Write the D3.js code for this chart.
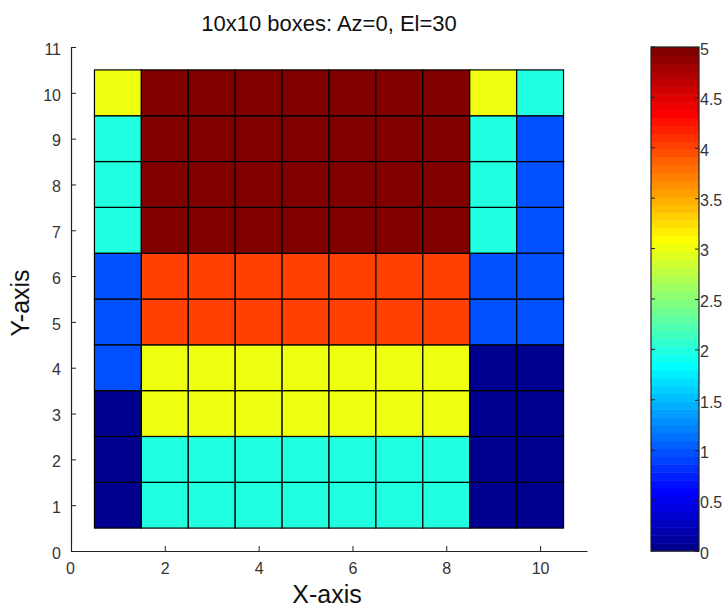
<!DOCTYPE html>
<html>
<head>
<meta charset="utf-8">
<script src="https://cdn.jsdelivr.net/npm/d3@7"></script>
<style>
  body { margin: 0; background: #fff; }
  svg { display: block; }
  text { font-family: "Liberation Sans", Arial, sans-serif; }
</style>
</head>
<body>
<svg id="chart" width="727" height="609"></svg>
<script>
// Grid coordinates
const xCats = [1, 2, 3, 4, 5, 6, 7, 8, 9, 10];
const yCats = [1, 2, 3, 4, 5, 6, 7, 8, 9, 10];

// Cell values, one row per y (bottom row first)
const row1  = [0, 2, 2, 2, 2, 2, 2, 2, 0, 0];
const row2  = [0, 2, 2, 2, 2, 2, 2, 2, 0, 0];
const row3  = [0, 3, 3, 3, 3, 3, 3, 3, 0, 0];
const row4  = [1, 3, 3, 3, 3, 3, 3, 3, 0, 0];
const row5  = [1, 4, 4, 4, 4, 4, 4, 4, 1, 1];
const row6  = [1, 4, 4, 4, 4, 4, 4, 4, 1, 1];
const row7  = [2, 5, 5, 5, 5, 5, 5, 5, 2, 1];
const row8  = [2, 5, 5, 5, 5, 5, 5, 5, 2, 1];
const row9  = [2, 5, 5, 5, 5, 5, 5, 5, 2, 1];
const row10 = [3, 5, 5, 5, 5, 5, 5, 5, 3, 2];
const rows = [row1, row2, row3, row4, row5, row6, row7, row8, row9, row10];

// Axis ticks
const xTicks = [0, 2, 4, 6, 8, 10];
const yTicks = [0, 1, 2, 3, 4, 5, 6, 7, 8, 9, 10, 11];
const cbTicks = [0, 0.5, 1, 1.5, 2, 2.5, 3, 3.5, 4, 4.5, 5];

const titleText = "10x10 boxes: Az=0, El=30";

// 64-entry jet colormap
function jet(i) { // i = 1..64
  const clamp = v => Math.max(0, Math.min(1, v));
  let r, g, b;
  if (i <= 24) r = 0; else if (i <= 40) r = (i - 24) / 16; else if (i <= 56) r = 1; else r = 1 - (i - 56) / 16;
  if (i <= 8) g = 0; else if (i <= 24) g = (i - 8) / 16; else if (i <= 40) g = 1; else if (i <= 56) g = 1 - (i - 40) / 16; else g = 0;
  if (i <= 8) b = (i + 8) / 16; else if (i <= 24) b = 1; else if (i <= 40) b = 1 - (i - 24) / 16; else b = 0;
  return d3.rgb(clamp(r) * 255, clamp(g) * 255, clamp(b) * 255).formatHex();
}
const jetColors = d3.range(1, 65).map(jet);
const color = d3.scaleQuantize().domain([0, 5]).range(jetColors);

const svg = d3.select("#chart");

// Main axes
const x = d3.scaleLinear().domain([0, 11]).range([71, 587]);
const y = d3.scaleLinear().domain([0, 11]).range([551, 47]);

const cells = [];
rows.forEach((row, ri) => row.forEach((v, ci) => cells.push({ x: xCats[ci], y: yCats[ri], v })));

svg.append("g").selectAll("rect")
  .data(cells)
  .join("rect")
  .attr("x", d => x(d.x - 0.5))
  .attr("y", d => y(d.y + 0.5))
  .attr("width", d => x(d.x + 0.5) - x(d.x - 0.5))
  .attr("height", d => y(d.y - 0.5) - y(d.y + 0.5))
  .attr("fill", d => color(d.v))
  .attr("stroke", "#000")
  .attr("stroke-width", 1.2);

const tickFont = 16;

const xAxis = svg.append("g")
  .attr("transform", `translate(0,${y(0)})`)
  .call(d3.axisBottom(x).tickValues(xTicks).tickFormat(d3.format("d")).tickSizeInner(-5).tickSizeOuter(0).tickPadding(12));
const yAxis = svg.append("g")
  .attr("transform", `translate(${x(0)},0)`)
  .call(d3.axisLeft(y).tickValues(yTicks).tickFormat(d3.format("d")).tickSizeInner(-5).tickSizeOuter(0).tickPadding(10));

[xAxis, yAxis].forEach(g => {
  g.select(".domain").attr("stroke", "#222").attr("stroke-width", 1.2);
  g.selectAll(".tick line").attr("stroke", "#222");
  g.selectAll(".tick text").attr("font-size", tickFont).attr("fill", "#333");
});
xAxis.selectAll(".tick text").attr("dx", d => d === 0 ? -1 : 0);
yAxis.selectAll(".tick text").attr("dy", "0.45em");

// Title and axis labels
svg.append("text")
  .attr("x", (x(0) + x(11)) / 2).attr("y", 31)
  .attr("text-anchor", "middle").attr("font-size", 22).attr("fill", "#111")
  .text(titleText);

svg.append("text")
  .attr("x", (x(0) + x(11)) / 2 - 2).attr("y", 603)
  .attr("text-anchor", "middle").attr("font-size", 25).attr("fill", "#111")
  .text("X-axis");

svg.append("text")
  .attr("transform", `translate(29,${(y(0) + y(11)) / 2 + 4}) rotate(-90)`)
  .attr("text-anchor", "middle").attr("font-size", 25).attr("fill", "#111")
  .text("Y-axis");

// Colour bar
const cbX0 = 651, cbX1 = 699;
const cy = d3.scaleLinear().domain([0, 5]).range([551, 47]);
const bandVals = d3.range(64).map(i => ({ lo: i * 5 / 64, hi: (i + 1) * 5 / 64, c: jetColors[i] }));

svg.append("g").selectAll("rect")
  .data(bandVals)
  .join("rect")
  .attr("x", cbX0)
  .attr("y", d => cy(d.hi))
  .attr("width", cbX1 - cbX0)
  .attr("height", d => cy(d.lo) - cy(d.hi) + 0.5)
  .attr("fill", d => d.c);

svg.append("rect")
  .attr("x", cbX0).attr("y", cy(5))
  .attr("width", cbX1 - cbX0).attr("height", cy(0) - cy(5))
  .attr("fill", "none").attr("stroke", "#222").attr("stroke-width", 1.2);

const cbAxis = svg.append("g")
  .attr("transform", `translate(${cbX1},0)`)
  .call(d3.axisRight(cy).tickValues(cbTicks).tickFormat(d3.format("")).tickSizeInner(-4).tickSizeOuter(0).tickPadding(1));
cbAxis.select(".domain").remove();
cbAxis.selectAll(".tick line").attr("stroke", "#222");
cbAxis.selectAll(".tick text").attr("font-size", tickFont).attr("fill", "#333").attr("dy", "0.45em");

// ticks on the left edge of the colour bar
svg.append("g").selectAll("line")
  .data(cbTicks)
  .join("line")
  .attr("x1", cbX0).attr("x2", cbX0 + 4)
  .attr("y1", d => cy(d)).attr("y2", d => cy(d))
  .attr("stroke", "#222");
</script>
</body>
</html>
